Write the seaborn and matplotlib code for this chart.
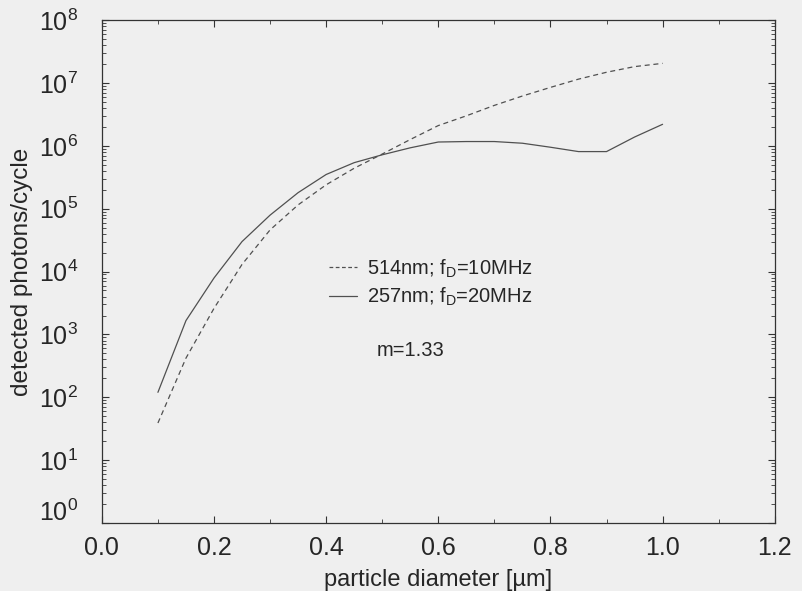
import matplotlib
matplotlib.use('agg')
import matplotlib.pyplot as plt
import matplotlib.ticker as mticker
import matplotlib.transforms as mtransforms
import seaborn as sns
import numpy as np
import pandas as pd

# particle diameter [um]
diameter = [0.10, 0.15, 0.20, 0.25, 0.30, 0.35, 0.40, 0.45, 0.50, 0.55,
            0.60, 0.65, 0.70, 0.75, 0.80, 0.85, 0.90, 0.95, 1.00]

# detected photons/cycle, 514nm; fD=10MHz (dashed)
photons_514 = [3.9e1, 4.2e2, 2.6e3, 1.3e4, 4.6e4, 1.15e5, 2.4e5, 4.4e5, 7.4e5, 1.26e6,
               2.1e6, 3.0e6, 4.4e6, 6.2e6, 8.5e6, 1.15e7, 1.48e7, 1.82e7, 2.05e7]

# detected photons/cycle, 257nm; fD=20MHz (solid)
photons_257 = [1.2e2, 1.66e3, 7.9e3, 3.0e4, 7.9e4, 1.8e5, 3.5e5, 5.4e5, 7.2e5, 9.3e5,
               1.15e6, 1.17e6, 1.17e6, 1.1e6, 9.5e5, 8.1e5, 8.1e5, 1.38e6, 2.2e6]

series_labels = ['514nm; f$_\\mathregular{D}$=10MHz', '257nm; f$_\\mathregular{D}$=20MHz']
x_ticks = [0.0, 0.2, 0.4, 0.6, 0.8, 1.0, 1.2]
y_ticks = [10.0 ** k for k in range(0, 9)]

BG = '#efefef'
LINE = '#505050'


def setup():
    sns.set_style("ticks")
    matplotlib.rcParams['font.family'] = ['Liberation Sans', 'DejaVu Sans']
    matplotlib.rcParams['mathtext.fontset'] = 'custom'
    matplotlib.rcParams['mathtext.rm'] = 'Liberation Sans'
    matplotlib.rcParams['mathtext.default'] = 'regular'
    matplotlib.rcParams['font.size'] = 15


def format_axes(ax):
    ax.set_yscale('log')
    ax.set_xlim(0.0, 1.2)
    ax.set_ylim(1e0, 1e8)
    ax.set_xticks(x_ticks)
    ax.set_xticklabels(['%.1f' % t for t in x_ticks])
    ax.xaxis.set_minor_locator(mticker.MultipleLocator(0.1))
    ax.set_yticks(y_ticks)
    ax.yaxis.set_minor_locator(mticker.LogLocator(base=10, subs=np.arange(2, 10), numticks=20))
    ax.yaxis.set_minor_formatter(mticker.NullFormatter())
    ax.tick_params(which='both', direction='in', top=True, right=True, color='#333333')
    ax.tick_params(which='major', length=5, width=0.8, labelsize=18)
    ax.tick_params(which='minor', length=3, width=0.6)
    ax.tick_params(axis='x', which='major', pad=9)
    ax.tick_params(axis='y', which='major', pad=17)
    for s in ax.spines.values():
        s.set_linewidth(0.9)
        s.set_color('#333333')


setup()

df = pd.DataFrame({
    'diameter': diameter * 2,
    'photons': photons_514 + photons_257,
    'series': [series_labels[0]] * len(diameter) + [series_labels[1]] * len(diameter),
})

fig = plt.figure(figsize=(8.02, 5.91), dpi=100, facecolor=BG)
ax = fig.add_axes([0.127, 0.115, 0.839, 0.851])
ax.set_facecolor(BG)

sns.lineplot(data=df, x='diameter', y='photons', hue='series', style='series',
             palette=[LINE, LINE], dashes=[(4, 3), ''], linewidth=0.9,
             legend=False, ax=ax)

format_axes(ax)

# bottom label sits a little higher in the original
fig.canvas.draw()
lab0 = ax.get_yticklabels()[0]
lab0.set_transform(lab0.get_transform() +
                   mtransforms.ScaledTranslation(0, 13 / 100, fig.dpi_scale_trans))

handles = [matplotlib.lines.Line2D([], [], color=LINE, lw=0.9, ls=(0, (3, 2))),
           matplotlib.lines.Line2D([], [], color=LINE, lw=0.9)]
ax.legend(handles, series_labels, loc='upper left', bbox_to_anchor=(0.323, 0.548),
          frameon=False, fontsize=14.5, handlelength=1.4, handletextpad=0.45,
          labelspacing=0.3, borderpad=0)

ax.text(0.55, 10 ** 2.75, 'm=1.33', ha='center', va='center', fontsize=14.5)

ax.set_xlabel('particle diameter [\u00b5m]', fontsize=17, labelpad=7)
ax.set_ylabel('detected photons/cycle', fontsize=17.5, labelpad=4)

fig.savefig('out.png', dpi=100, facecolor=BG)
